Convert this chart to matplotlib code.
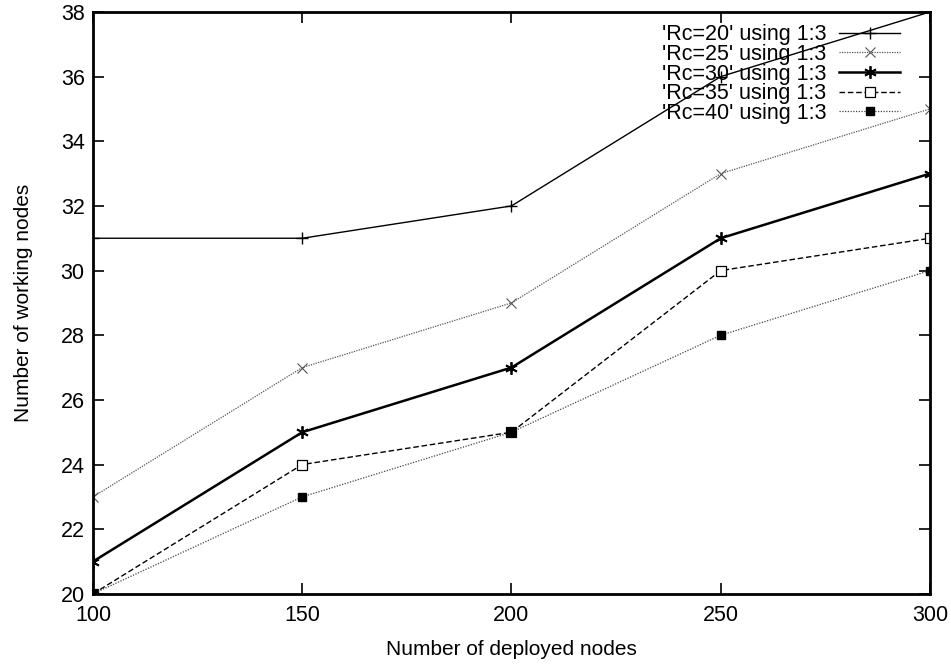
import matplotlib
matplotlib.use("Agg")
import matplotlib.pyplot as plt

# data
deployed = [100, 150, 200, 250, 300]
rc20 = [31, 31, 32, 36, 38]
rc25 = [23, 27, 29, 33, 35]
rc30 = [21, 25, 27, 31, 33]
rc35 = [20, 24, 25, 30, 31]
rc40 = [20, 23, 25, 28, 30]
labels = ["'Rc=20' using 1:3", "'Rc=25' using 1:3", "'Rc=30' using 1:3",
          "'Rc=35' using 1:3", "'Rc=40' using 1:3"]

plt.rcParams['font.family'] = ['Liberation Sans', 'DejaVu Sans']

f = plt.figure(figsize=(9.51, 6.65), dpi=100)
ax = f.add_axes([0.0978, 0.107, 0.880, 0.875])

ax.plot(deployed, rc20, color='black', lw=1.0, marker='+', ms=8, mew=1.0, label=labels[0])
ax.plot(deployed, rc25, color='#555555', lw=0.9, ls=(0, (1, 1)), marker='x', ms=7, mew=0.8, label=labels[1])
ax.plot(deployed, rc30, color='black', lw=1.8, marker=(6, 2, 0), ms=9, mew=1.3, label=labels[2])
ax.plot(deployed, rc35, color='black', lw=1.0, ls=(0, (4, 2)), marker='s', ms=7, mfc='white', mew=0.9, label=labels[3])
ax.plot(deployed, rc40, color='#444444', lw=0.9, ls=(0, (1, 1.2)), marker='s', ms=6, mfc='black', mec='black', label=labels[4])

ax.set_xlim(100, 300)
ax.set_ylim(20, 38)
ax.set_xticks([100, 150, 200, 250, 300])
ax.set_yticks(range(20, 39, 2))
ax.tick_params(direction='in', top=True, right=True, length=8, width=1.2, labelsize=15.5)
ax.tick_params(axis='x', pad=8)
ax.tick_params(axis='y', pad=6)
for s in ax.spines.values():
    s.set_linewidth(2)

ax.set_xlabel("Number of deployed nodes", fontsize=15, labelpad=10)
ax.set_ylabel("Number of working nodes", fontsize=15, labelpad=20)

ax.legend(loc='upper right', bbox_to_anchor=(0.982, 1.005), frameon=False,
          markerfirst=False, fontsize=15.5, handlelength=2.8, labelspacing=-0.06,
          borderaxespad=0.3, handletextpad=0.6)

f.savefig("out.png", dpi=100)
